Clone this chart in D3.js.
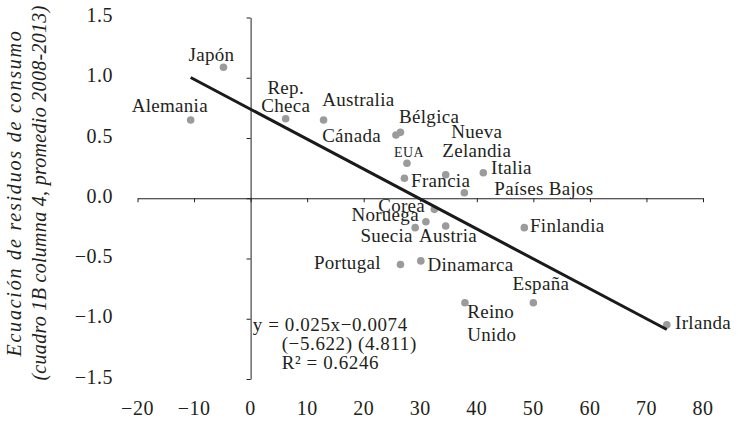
<!DOCTYPE html>
<html>
<head>
<meta charset="utf-8">
<script src="https://cdn.jsdelivr.net/npm/d3@7"></script>
<style>
  html, body { margin: 0; padding: 0; background: #fff; }
  svg { display: block; }
  text { font-family: "Liberation Serif", "Times New Roman", "DejaVu Serif", serif; fill: #231f20; }
</style>
</head>
<body>
<svg id="chart" width="738" height="421"></svg>
<script>
// Countries, x value, y value (consumption residual)
const countries = ["Alemania", "Japón", "Rep. Checa", "Australia", "Cánada", "Bélgica", "EUA",
  "Francia", "Nueva Zelandia", "Italia", "Países Bajos", "Corea", "Noruega", "Suecia", "Austria",
  "Finlandia", "Portugal", "Dinamarca", "Reino Unido", "España", "Irlanda"];
const xValues = [-10.6, -4.8, 6.2, 12.9, 25.7, 26.5, 27.65, 27.2, 34.5, 41.15, 37.8, 32.5, 31.0,
  29.1, 34.5, 48.4, 26.5, 30.1, 37.9, 50.0, 73.6];
const yValues = [0.65, 1.087, 0.66, 0.65, 0.525, 0.547, 0.29, 0.166, 0.195, 0.212, 0.046, -0.092,
  -0.195, -0.244, -0.23, -0.244, -0.55, -0.52, -0.867, -0.867, -1.05];

const xTicks = [-20, -10, 0, 10, 20, 30, 40, 50, 60, 70, 80];
const yTicks = [-1.5, -1.0, -0.5, 0.0, 0.5, 1.0, 1.5];

const yTitle = ["Ecuación de residuos de consumo", "(cuadro 1B columna 4, promedio 2008-2013)"];
const equationLines = ["y = 0.025x\u22120.0074", "(\u22125.622) (4.811)", "R\u00b2 = 0.6246"];

// Label placement for each country: text lines, anchor, offset from the dot (px)
const labelLayout = {
  "Alemania":       { lines: ["Alemania"], anchor: "start", dx: -59, dy: [-8] },
  "Japón":          { lines: ["Japón"], anchor: "start", dx: -35, dy: [-6] },
  "Rep. Checa":     { lines: ["Rep.", "Checa"], anchor: "middle", dx: 0, dy: [-24.5, -6.6] },
  "Australia":      { lines: ["Australia"], anchor: "start", dx: -1.4, dy: [-14] },
  "Cánada":         { lines: ["Cánada"], anchor: "end", dx: -15, dy: [6.7] },
  "Bélgica":        { lines: ["Bélgica"], anchor: "start", dx: -1.4, dy: [-9.6] },
  "EUA":            { lines: ["EUA"], anchor: "middle", dx: 2, dy: [-6.6], small: true },
  "Francia":        { lines: ["Francia"], anchor: "start", dx: 6.7, dy: [9] },
  "Nueva Zelandia": { lines: ["Nueva", "Zelandia"], anchor: "middle", dx: 31, dy: [-36.4, -17.4] },
  "Italia":         { lines: ["Italia"], anchor: "start", dx: 7.7, dy: [1.3] },
  "Países Bajos":   { lines: ["Países Bajos"], anchor: "start", dx: 30, dy: [2.3] },
  "Corea":          { lines: ["Corea"], anchor: "end", dx: -9.3, dy: [2.4] },
  "Noruega":        { lines: ["Noruega"], anchor: "end", dx: -7, dy: [-1] },
  "Suecia":         { lines: ["Suecia"], anchor: "end", dx: -2.3, dy: [14] },
  "Austria":        { lines: ["Austria"], anchor: "start", dx: -26.7, dy: [15.7] },
  "Finlandia":      { lines: ["Finlandia"], anchor: "start", dx: 5.7, dy: [4] },
  "Portugal":       { lines: ["Portugal"], anchor: "end", dx: -19.7, dy: [4.6] },
  "Dinamarca":      { lines: ["Dinamarca"], anchor: "start", dx: 6.7, dy: [9.7] },
  "Reino Unido":    { lines: ["Reino", "Unido"], anchor: "start", dx: 2.3, dy: [15.6, 38] },
  "España":         { lines: ["España"], anchor: "middle", dx: 7.5, dy: [-12.7] },
  "Irlanda":        { lines: ["Irlanda"], anchor: "start", dx: 8.3, dy: [4.3] }
};

const svg = d3.select("#chart");
const x = d3.scaleLinear().domain([-20, 80]).range([137.5, 703]);
const y = d3.scaleLinear().domain([-1.5, 1.5]).range([379, 17.5]);
const fmtY = d3.format(".1f");
const fmtX = d3.format("d");

// Horizontal axis crossing at y = 0, ticks pointing down
svg.append("g")
  .attr("transform", `translate(0,${y(0)})`)
  .call(d3.axisBottom(x).tickValues(xTicks).tickSize(4).tickSizeOuter(0).tickFormat(""))
  .call(g => g.selectAll("path, line").attr("stroke", "#231f20").attr("stroke-width", 1));

// Vertical axis crossing at x = 0, ticks pointing left
svg.append("g")
  .attr("transform", `translate(${x(0)},0)`)
  .call(d3.axisLeft(y).tickValues(yTicks).tickSize(4).tickSizeOuter(0).tickFormat(""))
  .call(g => g.selectAll("path, line").attr("stroke", "#231f20").attr("stroke-width", 1));

// Tick labels placed at the low edges of the plot
svg.append("g").selectAll("text").data(yTicks).join("text")
  .attr("x", 113).attr("y", d => y(d) + 4.5)
  .attr("text-anchor", "end")
  .style("font-size", "20px").style("letter-spacing", "0.5px")
  .text(d => fmtY(d));

svg.append("g").selectAll("text").data(xTicks).join("text")
  .attr("x", d => x(d)).attr("y", 415)
  .attr("text-anchor", "middle")
  .style("font-size", "20px").style("letter-spacing", "0.5px")
  .text(d => fmtX(d));

// Axis title (two italic lines)
const titleSpacing = ["1.8px", "0.3px"];
const titleG = svg.append("g").attr("transform", "translate(0,193) rotate(-90)");
titleG.selectAll("text").data(yTitle).join("text")
  .attr("x", 0).attr("y", (d, i) => 21 + i * 25)
  .attr("text-anchor", "middle")
  .style("font-size", "20px").style("font-style", "italic")
  .style("letter-spacing", (d, i) => titleSpacing[i])
  .text(d => d);

// Least-squares trend line over the data range
const n = xValues.length;
const mx = d3.mean(xValues), my = d3.mean(yValues);
let sxy = 0, sxx = 0;
for (let i = 0; i < n; i++) {
  sxy += (xValues[i] - mx) * (yValues[i] - my);
  sxx += (xValues[i] - mx) ** 2;
}
const slope = sxy / sxx, intercept = my - slope * mx;
const [xmin, xmax] = d3.extent(xValues);

// Points
svg.append("g").selectAll("circle").data(countries).join("circle")
  .attr("cx", (d, i) => x(xValues[i]))
  .attr("cy", (d, i) => y(yValues[i]))
  .attr("r", 3.8)
  .attr("fill", "#9b9b9b");

svg.append("path")
  .datum([xmin, xmax])
  .attr("d", d3.line().x(d => x(d)).y(d => y(intercept + slope * d)))
  .attr("stroke", "#1a1a1a").attr("stroke-width", 3).attr("fill", "none");

// Country labels
const labels = svg.append("g");
countries.forEach((c, i) => {
  const L = labelLayout[c];
  const px = x(xValues[i]), py = y(yValues[i]);
  L.lines.forEach((line, k) => {
    labels.append("text")
      .attr("x", px + L.dx).attr("y", py + L.dy[k])
      .attr("text-anchor", L.anchor)
      .style("font-size", L.small ? "14px" : "19px")
      .style("letter-spacing", L.small ? "0.4px" : "0.3px")
      .text(line);
  });
});

// Regression equation
const eqPos = [[252.7, 331], [281.7, 350], [281.7, 369]];
svg.append("g").selectAll("text").data(equationLines).join("text")
  .attr("x", (d, i) => eqPos[i][0]).attr("y", (d, i) => eqPos[i][1])
  .style("font-size", "19px").style("letter-spacing", "0.6px")
  .text(d => d);
</script>
</body>
</html>
